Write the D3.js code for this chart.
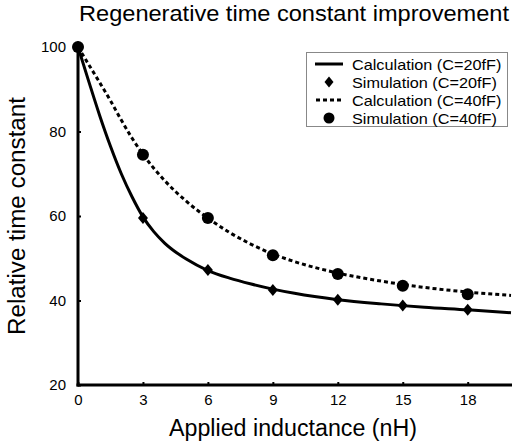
<!DOCTYPE html>
<html><head><meta charset="utf-8">
<script src="https://cdn.jsdelivr.net/npm/d3@7"></script>
<style>body{margin:0;background:#fff}svg{display:block}text{font-family:"Liberation Sans",Arial,sans-serif;fill:#000}</style>
</head><body>
<svg id="c" width="512" height="446"></svg>
<script>
const title = "Regenerative time constant improvement";
const xLabel = "Applied inductance (nH)";
const yLabel = "Relative time constant";
const xTicks = [0, 3, 6, 9, 12, 15, 18];
const yTicks = [20, 40, 60, 80, 100];
const calcX = [0, 0.5, 1, 1.5, 2, 2.5, 3, 3.5, 4, 5, 6, 7, 8, 9, 10, 12, 14, 16, 18, 20];
const calc20 = [100, 91.8, 83.8, 76.5, 70.0, 64.5, 59.8, 56.3, 53.6, 49.8, 47.1, 45.3, 43.9, 42.7, 41.7, 40.2, 39.2, 38.4, 37.8, 37.1];
const calc40 = [100, 95.8, 91.6, 87.3, 82.7, 78.4, 74.6, 71.3, 68.4, 63.5, 59.5, 56.1, 53.3, 51.0, 49.2, 46.5, 44.6, 43.1, 42.0, 41.2];
const simX = [0, 3, 6, 9, 12, 15, 18];
const sim20 = [100, 59.5, 47.2, 42.5, 40.2, 38.8, 37.8];
const sim40 = [100, 74.5, 59.5, 50.7, 46.3, 43.5, 41.5];
const legendLabels = ["Calculation (C=20fF)", "Simulation (C=20fF)", "Calculation (C=40fF)", "Simulation (C=40fF)"];

const svg = d3.select("#c");
const x = d3.scaleLinear().domain([0, 20]).range([78, 511]);
const y = d3.scaleLinear().domain([20, 100]).range([385, 47]);

function stretch(sel, f) {
  sel.each(function () {
    const w = this.getComputedTextLength();
    d3.select(this).attr("textLength", w * f).attr("lengthAdjust", "spacingAndGlyphs");
  });
}

svg.append("text").attr("x", 79).attr("y", 21).attr("font-size", 22)
  .attr("textLength", 430).attr("lengthAdjust", "spacingAndGlyphs").text(title);

// axes
const xa = svg.append("g").attr("transform", `translate(0,${y(20)})`)
  .call(d3.axisBottom(x).tickValues(xTicks).tickSizeInner(-3).tickSizeOuter(0).tickPadding(9));
xa.select(".domain").attr("stroke-width", 3).attr("d", `M${x(0)-1.5},0H512`);
xa.selectAll(".tick line").attr("stroke-width", 2);
xa.selectAll(".tick text").attr("font-size", 15).attr("font-family", "Liberation Sans, Arial, sans-serif");

const ya = svg.append("g").attr("transform", `translate(${x(0)},0)`)
  .call(d3.axisLeft(y).tickValues(yTicks).tickSizeInner(-3).tickSizeOuter(0).tickPadding(12));
ya.select(".domain").attr("stroke-width", 3).attr("d", `M0,${y(20)+1.5}V${y(100)}`);
ya.selectAll(".tick line").attr("stroke-width", 2);
ya.selectAll(".tick text").attr("font-size", 15).attr("font-family", "Liberation Sans, Arial, sans-serif");

svg.append("text").attr("x", 169).attr("y", 436).attr("font-size", 23)
  .attr("textLength", 248).attr("lengthAdjust", "spacingAndGlyphs").text(xLabel);
svg.append("text").attr("transform", "translate(25,335) rotate(-90)").attr("font-size", 23)
  .attr("textLength", 238).attr("lengthAdjust", "spacingAndGlyphs").text(yLabel);

const line = d3.line().x(d => x(d[0])).y(d => y(d[1])).curve(d3.curveMonotoneX);
svg.append("path").datum(calcX.map((v, i) => [v, calc20[i]])).attr("d", line)
  .attr("fill", "none").attr("stroke", "#000").attr("stroke-width", 3);
svg.append("path").datum(calcX.map((v, i) => [v, calc40[i]])).attr("d", line)
  .attr("fill", "none").attr("stroke", "#000").attr("stroke-width", 3).attr("stroke-dasharray", "4,3");

const diamond = (cx, cy, s) => `M${cx},${cy - s * 1.2}L${cx + s},${cy}L${cx},${cy + s * 1.2}L${cx - s},${cy}Z`;
svg.append("g").selectAll("path").data(simX.map((v, i) => [v, sim20[i]])).join("path")
  .attr("d", d => diamond(x(d[0]), y(d[1]), 5)).attr("fill", "#000");
svg.append("g").selectAll("circle").data(simX.map((v, i) => [v, sim40[i]])).join("circle")
  .attr("cx", d => x(d[0])).attr("cy", d => y(d[1])).attr("r", 6).attr("fill", "#000");

// legend
const lg = svg.append("g");
lg.append("rect").attr("x", 306.5).attr("y", 52.5).attr("width", 201).attr("height", 74)
  .attr("fill", "#fff").attr("stroke", "#888").attr("stroke-width", 1);
const ly = [64, 82, 100, 118];
lg.append("line").attr("x1", 315).attr("x2", 343).attr("y1", ly[0]).attr("y2", ly[0]).attr("stroke", "#000").attr("stroke-width", 3);
lg.append("path").attr("d", diamond(329, ly[1], 4.5)).attr("fill", "#000");
lg.append("line").attr("x1", 316).attr("x2", 343).attr("y1", ly[2]).attr("y2", ly[2]).attr("stroke", "#000").attr("stroke-width", 3).attr("stroke-dasharray", "4,3");
lg.append("circle").attr("cx", 329).attr("cy", ly[3]).attr("r", 5.5).attr("fill", "#000");
stretch(lg.selectAll("text.l").data(legendLabels).join("text").attr("class", "l")
  .attr("x", 352).attr("y", (d, i) => ly[i] + 5.5).attr("font-size", 14.5).text(d => d), 1.12);
</script>
</body></html>
